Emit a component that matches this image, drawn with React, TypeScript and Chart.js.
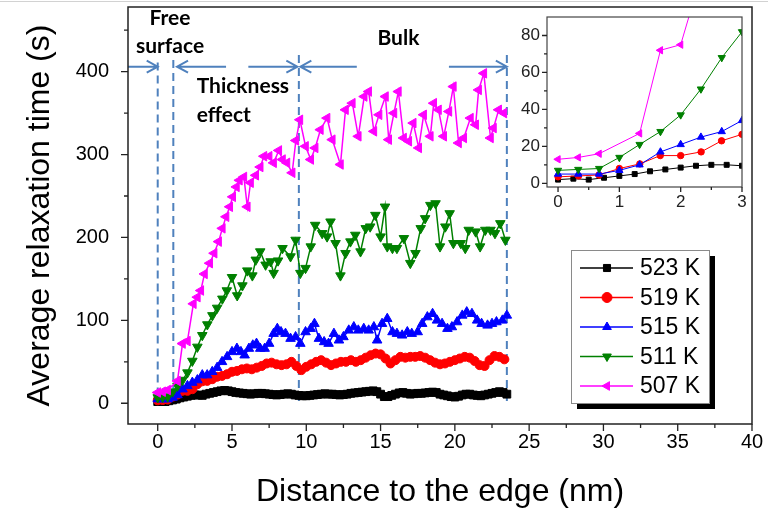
import React, { useEffect, useRef } from 'react';
import { Chart, registerables } from 'chart.js';
import { drawPoint } from 'chart.js/helpers';

Chart.register(...registerables);

// ---------------- data ----------------
const seriesLabels = ['523 K', '519 K', '515 K', '511 K', '507 K'];
const seriesColors = ['#000000', '#ff0000', '#0000ff', '#008000', '#ff00ff'];
const seriesStyles = ['rect', 'circle', 'triangle', 'triangle', 'triangle'];
const seriesRotations = [0, 0, 0, 180, 270];

// 523 K : sampled every 0.25 nm starting at 0
const step523 = 0.25;
const y523 = [
  2, 2.5, 2, 3, 4, 5, 6.5, 7.5, 8.5, 9.5, 10, 10, 9.5,
  11, 12, 13, 14, 15, 15.5, 15, 14,
  13, 12.5, 12, 11.5, 11, 11.5, 12, 12,
  11.5, 11, 10.5, 10, 10.5, 11, 11.5, 11,
  10, 9.5, 9, 9, 9.5, 10, 10.5, 11,
  11.5, 11, 11, 10.5, 10, 10.5, 11, 12,
  12.5, 13, 13.5, 14, 14.5, 15, 14, 11,
  8, 8, 9.5, 11, 12.5, 13, 12, 11,
  11.5, 12, 12, 12.5, 13, 13.5, 13, 11,
  10, 9, 8, 7.5, 8.5, 10, 11, 11,
  10, 9.5, 9, 10, 11, 12, 13, 14,
  13, 11,
];

// 519 K : sampled every 1/3 nm starting at 0
const step519 = 1 / 3;
const y519 = [
  3.5, 4, 4.5, 8, 10.5, 15, 15, 17, 23, 26.5,
  27, 29, 32, 33, 35, 38, 39, 41, 42, 41,
  43, 45, 48, 49, 47, 46, 47, 50, 45, 40,
  44, 47, 50, 52, 49, 46, 48, 50, 50, 52,
  50, 52, 55, 58, 60, 59, 54, 48, 52, 56,
  55, 56, 56, 57, 55, 52, 49, 47, 48, 50,
  52, 54, 56, 55, 51, 46, 45, 52, 57, 56,
  53,
];

// 515 K
const x515 = [
  0, 0.33, 0.67, 1.0, 1.33, 1.67, 2.0, 2.33, 2.67, 3.0,
  3.33, 3.67, 4.0, 4.33, 4.67, 5.0, 5.33, 5.6, 5.85, 6.14,
  6.4, 6.65, 6.9, 7.2, 7.5, 7.8, 8.05, 8.3, 8.6, 8.94,
  9.28, 9.6, 9.95, 10.3, 10.55, 10.85, 11.2, 11.5, 11.86, 12.2,
  12.5, 12.86, 13.2, 13.5, 13.87, 14.2, 14.55, 14.77, 15.1, 15.45,
  15.8, 16.1, 16.45, 16.8, 17.1, 17.5, 17.8, 18.15, 18.5, 18.8,
  19.14, 19.5, 19.8, 20.15, 20.5, 20.8, 21.15, 21.5, 21.8, 22.2,
  22.5, 22.8, 23.2, 23.5,
];
const y515 = [
  5, 5, 5, 7, 10, 17, 21, 25, 28, 34,
  34, 38, 43, 50, 56, 62, 66, 62, 58, 66,
  70, 72, 66, 66, 72, 84, 90, 86, 84, 78,
  80, 72, 86, 90, 96, 78, 74, 72, 84, 76,
  80, 88, 92, 88, 90, 88, 92, 76, 96, 102,
  86, 84, 82, 86, 84, 86, 96, 104, 108, 100,
  96, 90, 92, 98, 106, 110, 108, 100, 96, 94,
  96, 98, 100, 106,
];

// 511 K
const x511 = [
  0, 0.33, 0.67, 1.0, 1.33, 1.67, 2.0, 2.33, 2.67, 3.0,
  3.34, 3.68, 4.0, 4.35, 4.65, 5.0, 5.35, 5.7, 6.03, 6.37,
  6.6, 6.9, 7.26, 7.6, 7.8, 8.1, 8.4, 8.94, 9.28, 9.6,
  9.95, 10.3, 10.6, 11.07, 11.4, 11.63, 11.97, 12.3, 12.64, 12.97,
  13.3, 13.65, 14.0, 14.3, 14.65, 15.0, 15.3, 15.45, 15.8, 16.1,
  16.57, 17.0, 17.35, 17.7, 18.0, 18.35, 18.7, 19.0, 19.36, 19.65,
  19.9, 20.4, 20.7, 20.93, 21.4, 21.7, 22.05, 22.4, 22.7, 23.06,
  23.4,
];
const y511 = [
  7, 7.5, 8, 14, 21, 28, 37, 51, 68, 82,
  95, 106, 115, 126, 136, 152, 130, 142, 160, 154,
  173, 183, 167, 171, 157, 172, 187, 177, 197, 157,
  163, 189, 215, 205, 201, 219, 193, 154, 181, 195,
  203, 183, 211, 213, 227, 201, 237, 189, 187, 187,
  199, 169, 181, 211, 223, 239, 241, 189, 213, 229,
  193, 193, 187, 209, 207, 189, 209, 209, 205, 217,
  197,
];

// 507 K
const x507 = [
  0, 0.33, 0.67, 1.33, 1.67, 2.0, 2.4, 2.67, 2.9, 3.15,
  3.5, 3.8, 4.1, 4.35, 4.6, 4.85, 5.05, 5.3, 5.5, 5.8,
  6.03, 6.25, 6.6, 6.9, 7.15, 7.5, 7.8, 8.15, 8.4, 8.7,
  9.05, 9.3, 9.57, 9.95, 10.3, 10.6, 10.95, 11.4, 11.75, 12.3,
  12.64, 13.1, 13.5, 13.9, 14.2, 14.55, 14.9, 15.33, 15.55, 15.9,
  16.2, 16.55, 16.9, 17.2, 17.57, 17.9, 18.35, 18.58, 18.9, 19.25,
  19.6, 19.9, 20.25, 20.6, 21.05, 21.4, 21.6, 21.95, 22.4, 22.6,
  22.95, 23.3,
];
const y507 = [
  13, 14, 16, 27, 72, 75, 120, 128, 136, 156,
  169, 181, 195, 211, 225, 237, 249, 261, 269, 273,
  237, 266, 275, 285, 298, 298, 290, 305, 294, 290,
  278, 317, 342, 310, 294, 308, 330, 344, 318, 288,
  354, 362, 322, 370, 376, 328, 348, 370, 318, 350,
  376, 320, 316, 338, 308, 348, 322, 362, 354, 322,
  352, 382, 314, 320, 344, 336, 378, 398, 320, 332,
  354, 350,
];

// ticks
const xTicks = [0, 5, 10, 15, 20, 25, 30, 35, 40];
const xMinorTicks = [2.5, 7.5, 12.5, 17.5, 22.5, 27.5, 32.5, 37.5];
const yTicks = [0, 100, 200, 300, 400];
const yMinorTicks = [50, 150, 250, 350, 450];
const insetXTicks = [0, 1, 2, 3];
const insetXMinorTicks = [0.5, 1.5, 2.5];
const insetYTicks = [0, 20, 40, 60, 80];
const insetYMinorTicks = [10, 30, 50, 70];

// region annotations (data coordinates)
const regionBounds = [0, 1.05, 9.5, 23.5];
const regionTops = [411, 414, 420, 420];
const arrowLevel = 406;
const arrowSpans = [
  [-2, 0],
  [4.6, 1.3],
  [6.1, 9.4],
  [13.4, 9.6],
  [19.6, 23.5],
];
const regionTexts = [
  { text: 'Free', x: 0.83, y: 465, align: 'center' },
  { text: 'surface', x: 0.83, y: 431, align: 'center' },
  { text: 'Bulk', x: 16.2, y: 440, align: 'center' },
  { text: 'Thickness', x: 2.62, y: 382, align: 'left' },
  { text: 'effect', x: 2.62, y: 348, align: 'left' },
];

// ---------------- helpers ----------------
const gridPts = (step: number, ys: number[]) => ys.map((y, i) => ({ x: +(i * step).toFixed(4), y }));
const pairPts = (xs: number[], ys: number[]) => xs.map((x, i) => ({ x, y: ys[i] }));
const seriesPoints = [
  gridPts(step523, y523),
  gridPts(step519, y519),
  pairPts(x515, y515),
  pairPts(x511, y511),
  pairPts(x507, y507),
];

const FONT = '"Liberation Sans", Arial, sans-serif';
const mainRadii = [5.5, 4.5, 5.5, 5.5, 5.5];
const insetRadii = [3.5, 3.2, 4.2, 4.2, 4.2];

function makeDatasets(inset: boolean) {
  return seriesPoints.map((data, i) => ({
    label: seriesLabels[i],
    data,
    borderColor: seriesColors[i],
    backgroundColor: seriesColors[i],
    pointBackgroundColor: seriesColors[i],
    pointBorderColor: seriesColors[i],
    pointStyle: seriesStyles[i],
    pointRotation: seriesRotations[i],
    pointRadius: inset ? insetRadii[i] : mainRadii[i],
    pointBorderWidth: 1,
    borderWidth: inset ? 1 : 1.5,
    tension: 0,
    order: 5 - i,
    ...(inset ? { clip: 0 } : {}),
  }));
}

function drawTicks(ctx: any, chart: any, xs: number[], xm: number[], ys: number[], ym: number[], major: number, minor: number) {
  const { left, bottom } = chart.chartArea;
  const sx = chart.scales.x;
  const sy = chart.scales.y;
  ctx.save();
  ctx.strokeStyle = '#222';
  ctx.lineWidth = 1.3;
  ctx.beginPath();
  xs.forEach((v) => { const p = sx.getPixelForValue(v); ctx.moveTo(p, bottom); ctx.lineTo(p, bottom + major); });
  xm.forEach((v) => { const p = sx.getPixelForValue(v); ctx.moveTo(p, bottom); ctx.lineTo(p, bottom + minor); });
  ys.forEach((v) => { const p = sy.getPixelForValue(v); ctx.moveTo(left, p); ctx.lineTo(left - major, p); });
  ym.forEach((v) => { const p = sy.getPixelForValue(v); ctx.moveTo(left, p); ctx.lineTo(left - minor, p); });
  ctx.stroke();
  ctx.restore();
}

const noPadY = (w: number) => (s: any) => { s.width = w; s.paddingTop = 0; s.paddingBottom = 0; };
const noPadX = (h: number) => (s: any) => { s.height = h; s.paddingLeft = 0; s.paddingRight = 0; };

const mainDecor = {
  id: 'mainDecor',
  beforeDatasetsDraw(chart: any) {
    const ctx = chart.ctx;
    const sx = chart.scales.x;
    const sy = chart.scales.y;
    ctx.save();
    ctx.strokeStyle = '#4f81bd';
    ctx.lineWidth = 2;
    ctx.setLineDash([8, 5]);
    regionBounds.forEach((b, i) => {
      const px = sx.getPixelForValue(b);
      ctx.beginPath();
      ctx.moveTo(px, sy.getPixelForValue(regionTops[i]));
      ctx.lineTo(px, sy.getPixelForValue(0));
      ctx.stroke();
    });
    ctx.restore();
  },
  afterDatasetsDraw(chart: any) {
    const ctx = chart.ctx;
    const sx = chart.scales.x;
    const sy = chart.scales.y;
    const ay = sy.getPixelForValue(arrowLevel);
    ctx.save();
    ctx.strokeStyle = '#4f81bd';
    ctx.lineWidth = 2;
    arrowSpans.forEach(([a, b]) => {
      const x1 = sx.getPixelForValue(a);
      const x2 = sx.getPixelForValue(b);
      const dir = Math.sign(x2 - x1);
      ctx.beginPath();
      ctx.moveTo(x1, ay);
      ctx.lineTo(x2, ay);
      ctx.moveTo(x2 - dir * 11, ay - 6);
      ctx.lineTo(x2, ay);
      ctx.lineTo(x2 - dir * 11, ay + 6);
      ctx.stroke();
    });
    ctx.fillStyle = '#000';
    ctx.font = 'bold 21px Lato, "Liberation Sans", sans-serif';
    ctx.textBaseline = 'middle';
    regionTexts.forEach((t) => {
      ctx.textAlign = t.align;
      ctx.fillText(t.text, sx.getPixelForValue(t.x), sy.getPixelForValue(t.y));
    });
    ctx.restore();
  },
  afterDraw(chart: any) {
    const ctx = chart.ctx;
    const { left, top, right, bottom } = chart.chartArea;
    // frame
    ctx.save();
    ctx.strokeStyle = '#222';
    ctx.lineWidth = 1.5;
    ctx.strokeRect(left, top, right - left, bottom - top);
    ctx.restore();
    drawTicks(ctx, chart, xTicks, xMinorTicks, yTicks, yMinorTicks, 7, 4);

    // axis titles
    ctx.save();
    ctx.fillStyle = '#000';
    ctx.font = `32px ${FONT}`;
    ctx.textAlign = 'center';
    ctx.textBaseline = 'middle';
    ctx.fillText('Distance to the edge (nm)', (left + right) / 2, 492);
    ctx.translate(40, (top + bottom) / 2);
    ctx.rotate(-Math.PI / 2);
    ctx.fillText('Average relaxation time (s)', 0, 0);
    ctx.restore();

    // legend
    const bx = 571, by = 250, bw = 138, bh = 153;
    ctx.save();
    ctx.fillStyle = '#000';
    ctx.fillRect(bx + 6, by + 6, bw, bh);
    ctx.fillStyle = '#fff';
    ctx.fillRect(bx, by, bw, bh);
    ctx.strokeStyle = '#8a8a8a';
    ctx.lineWidth = 1;
    ctx.strokeRect(bx + 0.5, by + 0.5, bw, bh);
    seriesLabels.forEach((lab, i) => {
      const ry = 268 + i * 29.5;
      ctx.strokeStyle = seriesColors[i];
      ctx.fillStyle = seriesColors[i];
      ctx.lineWidth = 1.5;
      ctx.beginPath();
      ctx.moveTo(580, ry);
      ctx.lineTo(633, ry);
      ctx.stroke();
      ctx.lineWidth = 1;
      drawPoint(ctx, { pointStyle: seriesStyles[i], rotation: seriesRotations[i], radius: 5, borderWidth: 1 }, 607, ry);
      ctx.fillStyle = '#000';
      ctx.font = `23px ${FONT}`;
      ctx.textAlign = 'left';
      ctx.textBaseline = 'middle';
      ctx.fillText(lab, 640, ry + 1);
    });
    ctx.restore();
  },
};

const insetDecor = {
  id: 'insetDecor',
  beforeDraw(chart: any) {
    const ctx = chart.ctx;
    const { left, top, right, bottom } = chart.chartArea;
    ctx.save();
    ctx.fillStyle = '#fff';
    ctx.fillRect(left, top, right - left, bottom - top);
    ctx.restore();
  },
  afterDraw(chart: any) {
    const ctx = chart.ctx;
    const { left, top, right, bottom } = chart.chartArea;
    ctx.save();
    ctx.strokeStyle = '#444';
    ctx.lineWidth = 1.2;
    ctx.strokeRect(left, top, right - left, bottom - top);
    ctx.restore();
    drawTicks(ctx, chart, insetXTicks, insetXMinorTicks, insetYTicks, insetYMinorTicks, 5, 3);
  },
};

function MainChart() {
  const ref = useRef<HTMLCanvasElement | null>(null);
  useEffect(() => {
    if (!ref.current) return;
    const chart = new Chart(ref.current, {
      type: 'line',
      data: { datasets: makeDatasets(false) as any },
      options: {
        animation: false,
        responsive: false,
        maintainAspectRatio: false,
        events: [],
        layout: { padding: { top: 7, right: 16, left: 0, bottom: 0 } },
        plugins: { legend: { display: false }, tooltip: { enabled: false } },
        scales: {
          x: {
            type: 'linear',
            min: -2,
            max: 40,
            afterBuildTicks: (s: any) => { s.ticks = xTicks.map((v) => ({ value: v })); },
            afterFit: noPadX(92),
            grid: { display: false, drawTicks: false },
            border: { display: false },
            ticks: { font: { family: FONT, size: 20 }, color: '#000', padding: 6, maxRotation: 0, autoSkip: false },
          },
          y: {
            type: 'linear',
            min: -25,
            max: 478,
            afterBuildTicks: (s: any) => { s.ticks = yTicks.map((v) => ({ value: v })); },
            afterFit: noPadY(128),
            grid: { display: false, drawTicks: false },
            border: { display: false },
            ticks: { font: { family: FONT, size: 20 }, color: '#000', padding: 19, autoSkip: false },
          },
        },
      } as any,
      plugins: [mainDecor],
    });
    return () => chart.destroy();
  }, []);
  return <canvas ref={ref} width={768} height={516} style={{ position: 'absolute', left: 0, top: 0 }} />;
}

function InsetChart() {
  const ref = useRef<HTMLCanvasElement | null>(null);
  useEffect(() => {
    if (!ref.current) return;
    const chart = new Chart(ref.current, {
      type: 'line',
      data: { datasets: makeDatasets(true) as any },
      options: {
        animation: false,
        responsive: false,
        maintainAspectRatio: false,
        events: [],
        layout: { padding: { top: 9, right: 20, left: 0, bottom: 0 } },
        plugins: { legend: { display: false }, tooltip: { enabled: false } },
        scales: {
          x: {
            type: 'linear',
            min: -0.18,
            max: 3,
            afterBuildTicks: (s: any) => { s.ticks = insetXTicks.map((v) => ({ value: v })); },
            afterFit: noPadX(31),
            grid: { display: false, drawTicks: false },
            border: { display: false },
            ticks: { font: { family: FONT, size: 17 }, color: '#222', padding: 5, maxRotation: 0, autoSkip: false },
          },
          y: {
            type: 'linear',
            min: -2,
            max: 90,
            afterBuildTicks: (s: any) => { s.ticks = insetYTicks.map((v) => ({ value: v })); },
            afterFit: noPadY(47),
            grid: { display: false, drawTicks: false },
            border: { display: false },
            ticks: { font: { family: FONT, size: 17 }, color: '#222', padding: 7, autoSkip: false },
          },
        },
      } as any,
      plugins: [insetDecor],
    });
    return () => chart.destroy();
  }, []);
  return <canvas ref={ref} width={262} height={210} style={{ position: 'absolute', left: 500, top: 8 }} />;
}

export default function App() {
  return (
    <div style={{ position: 'absolute', left: 0, top: 0, width: 768, height: 516, background: '#fff', overflow: 'hidden' }}>
      <div style={{ position: 'absolute', left: 0, top: 1, width: 768, height: 1, background: '#d2d2d2' }} />
      <MainChart />
      <InsetChart />
    </div>
  );
}
